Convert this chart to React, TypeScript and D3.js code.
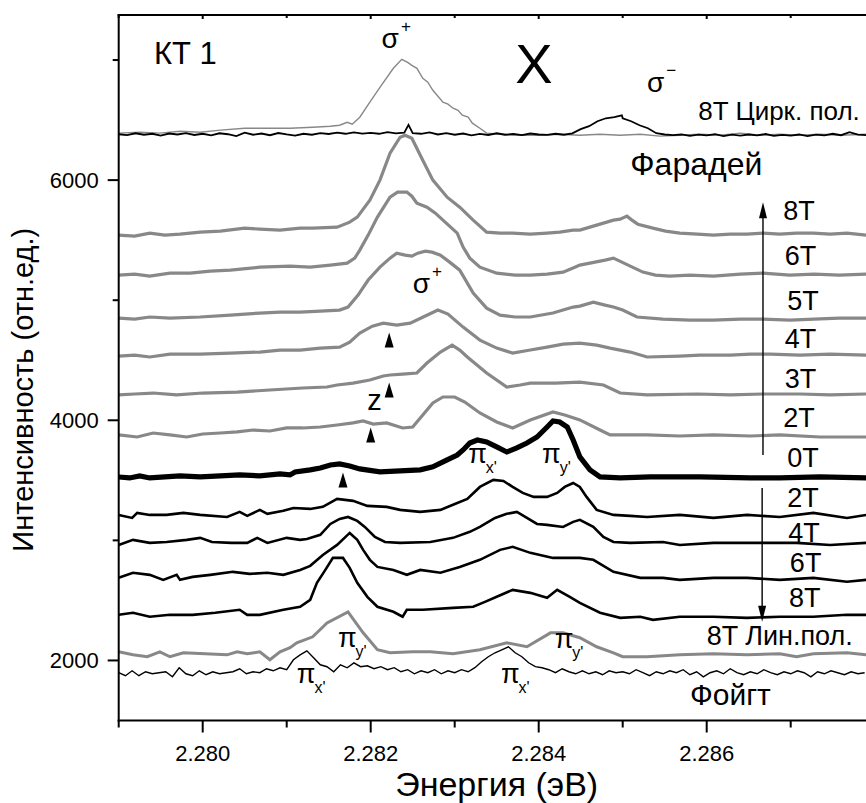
import React from "react";
import * as d3 from "d3";

// ---------- axis ticks ----------
const xMajorTicks = [2.28, 2.282, 2.284, 2.286, 2.288];
const xTickLabels = [2.28, 2.282, 2.284, 2.286];
const xMinorTicks = [2.279, 2.281, 2.283, 2.285, 2.287];
const yMajorTicks = [2000, 4000, 6000];
const yMinorTicks = [3000, 5000, 7000];

// ---------- spectra: [energy (eV), intensity (arb.)] ----------
// 8T circular polarisation (Faraday), sigma+ (gray thin)
const circSigmaPlus = [
  [2.279, 6391], [2.27925, 6399], [2.27949, 6391], [2.27973, 6407], [2.27997, 6399], [2.28021, 6416],
  [2.2805, 6432], [2.2808, 6432], [2.28104, 6432], [2.28131, 6440], [2.28152, 6449], [2.28163, 6457],
  [2.28172, 6482], [2.28178, 6466], [2.28187, 6524], [2.28199, 6649], [2.28211, 6773], [2.28227, 6931],
  [2.28237, 7006], [2.28244, 6981], [2.28249, 6956], [2.28255, 6931], [2.28262, 6848], [2.28268, 6815],
  [2.28274, 6748], [2.28286, 6649], [2.28292, 6632], [2.28298, 6599], [2.28304, 6582], [2.28309, 6540],
  [2.28316, 6524], [2.28321, 6474], [2.2833, 6432], [2.28338, 6391], [2.28354, 6382], [2.28378, 6374],
  [2.28402, 6374], [2.28425, 6382], [2.28449, 6374], [2.28473, 6382], [2.28497, 6374], [2.28521, 6382],
  [2.28544, 6366], [2.28568, 6374], [2.28592, 6382], [2.28616, 6374], [2.2864, 6391], [2.28664, 6374],
  [2.28687, 6382], [2.28711, 6374], [2.28735, 6382], [2.28759, 6374], [2.2879, 6382],
];
// 8T circular polarisation, sigma- (black thin)
const circSigmaMinus = [
  [2.279, 6382], [2.2791, 6374], [2.2792, 6390], [2.2793, 6378], [2.2794, 6386], [2.2795, 6370],
  [2.2796, 6388], [2.2797, 6380], [2.2798, 6392], [2.2799, 6376], [2.28, 6386], [2.2801, 6372],
  [2.2802, 6390], [2.2803, 6382], [2.2804, 6366], [2.2805, 6395], [2.2806, 6378], [2.2807, 6388],
  [2.2808, 6374], [2.2809, 6392], [2.281, 6380], [2.2811, 6370], [2.2812, 6386], [2.2813, 6378],
  [2.2814, 6392], [2.2815, 6384], [2.2816, 6396], [2.2817, 6386], [2.2818, 6398], [2.2819, 6388],
  [2.282, 6394], [2.2821, 6386], [2.2822, 6400], [2.2823, 6390], [2.2824, 6395], [2.28245, 6460],
  [2.2825, 6392], [2.2826, 6386], [2.2827, 6398], [2.2828, 6380], [2.2829, 6392], [2.283, 6378],
  [2.2831, 6388], [2.2832, 6372], [2.2833, 6385], [2.2834, 6376], [2.2835, 6390], [2.2836, 6378],
  [2.2837, 6384], [2.2838, 6374], [2.2839, 6388], [2.284, 6380], [2.2841, 6376], [2.2842, 6386],
  [2.2843, 6378], [2.2844, 6390], [2.2845, 6424], [2.2846, 6449], [2.2847, 6490], [2.2848, 6515],
  [2.2849, 6524], [2.28499, 6540], [2.285, 6515], [2.2851, 6490], [2.2852, 6457], [2.2853, 6432],
  [2.2854, 6391], [2.2855, 6380], [2.2856, 6374], [2.2857, 6380], [2.2858, 6368], [2.2859, 6378],
  [2.286, 6372], [2.2861, 6382], [2.2862, 6366], [2.2863, 6378], [2.2864, 6370], [2.2865, 6380],
  [2.2866, 6372], [2.2867, 6384], [2.2868, 6368], [2.2869, 6376], [2.287, 6370], [2.2871, 6380],
  [2.2872, 6366], [2.2873, 6378], [2.2874, 6372], [2.2875, 6386], [2.2876, 6374], [2.2877, 6400],
  [2.2878, 6378], [2.2879, 6374],
];
// Faraday geometry, gray thick
const faraday8T = [
  [2.279, 5542], [2.27919, 5534], [2.27937, 5559], [2.27955, 5542], [2.27973, 5550], [2.27997, 5567],
  [2.28021, 5575], [2.2805, 5600], [2.28068, 5592], [2.28092, 5584], [2.28116, 5600], [2.28131, 5600],
  [2.2816, 5608], [2.28175, 5650], [2.28184, 5692], [2.28199, 5833], [2.28211, 6000], [2.28223, 6224],
  [2.28235, 6357], [2.28241, 6374], [2.28249, 6349], [2.28262, 6166], [2.28274, 6000], [2.28291, 5858],
  [2.28306, 5775], [2.28322, 5667], [2.28338, 5567], [2.28354, 5559], [2.28369, 5559], [2.2839, 5550],
  [2.2841, 5559], [2.28425, 5567], [2.28441, 5584], [2.28449, 5584], [2.28469, 5625], [2.28489, 5667],
  [2.28497, 5675], [2.28505, 5700], [2.28511, 5667], [2.28518, 5633], [2.28536, 5600], [2.28551, 5575],
  [2.28568, 5559], [2.28589, 5550], [2.28608, 5542], [2.28628, 5550], [2.28648, 5550], [2.28667, 5559],
  [2.28687, 5550], [2.28707, 5559], [2.28727, 5559], [2.28747, 5550], [2.28767, 5559], [2.2879, 5542],
];
const faraday6T = [
  [2.279, 5209], [2.27919, 5217], [2.27937, 5200], [2.27961, 5225], [2.27985, 5225], [2.28009, 5242],
  [2.28033, 5250], [2.28068, 5275], [2.28104, 5284], [2.28128, 5275], [2.28152, 5292], [2.28172, 5309],
  [2.28181, 5350], [2.28187, 5417], [2.28197, 5542], [2.28208, 5692], [2.28223, 5858], [2.28232, 5900],
  [2.28243, 5900], [2.28249, 5866], [2.28255, 5808], [2.28267, 5775], [2.28277, 5725], [2.28286, 5667],
  [2.28303, 5559], [2.2831, 5442], [2.28318, 5350], [2.2833, 5275], [2.2835, 5225], [2.28372, 5209],
  [2.2839, 5209], [2.2841, 5217], [2.28429, 5234], [2.28443, 5275], [2.28449, 5292], [2.28467, 5317],
  [2.28479, 5334], [2.28489, 5350], [2.28499, 5317], [2.28509, 5284], [2.28524, 5234], [2.28539, 5209],
  [2.28556, 5200], [2.2858, 5209], [2.28608, 5200], [2.2864, 5217], [2.28667, 5225], [2.28699, 5209],
  [2.28728, 5217], [2.28758, 5209], [2.2879, 5217],
];
const faraday5T = [
  [2.279, 4851], [2.27919, 4843], [2.27937, 4860], [2.27961, 4851], [2.27997, 4860], [2.28033, 4876],
  [2.28068, 4893], [2.28092, 4901], [2.28116, 4901], [2.2814, 4909], [2.28163, 4918], [2.28173, 4943],
  [2.28185, 5043], [2.28197, 5168], [2.28211, 5275], [2.28223, 5350], [2.28231, 5392], [2.28241, 5375],
  [2.28249, 5367], [2.28256, 5392], [2.28265, 5409], [2.28273, 5400], [2.28283, 5375], [2.28294, 5317],
  [2.28306, 5250], [2.28322, 5059], [2.28338, 4934], [2.28354, 4876], [2.28372, 4860], [2.2839, 4860],
  [2.28417, 4893], [2.28441, 4943], [2.28449, 4951], [2.28465, 4984], [2.28479, 4959], [2.28489, 4943],
  [2.285, 4918], [2.28517, 4860], [2.28548, 4843], [2.2858, 4834], [2.28608, 4834], [2.2864, 4843],
  [2.28667, 4843], [2.28699, 4834], [2.28728, 4843], [2.28758, 4851], [2.2879, 4851],
];
const faraday4T = [
  [2.279, 4535], [2.27919, 4543], [2.27937, 4527], [2.27961, 4551], [2.27997, 4551], [2.28033, 4560],
  [2.28068, 4568], [2.28092, 4585], [2.28116, 4585], [2.2814, 4601], [2.28163, 4609], [2.28175, 4651],
  [2.28187, 4726], [2.28202, 4784], [2.28215, 4809], [2.28223, 4801], [2.28231, 4793], [2.28247, 4809],
  [2.28265, 4868], [2.2828, 4918], [2.28292, 4884], [2.2831, 4776], [2.2833, 4668], [2.2835, 4601],
  [2.28369, 4560], [2.2839, 4585], [2.2841, 4609], [2.28429, 4634], [2.28449, 4643], [2.28469, 4626],
  [2.28485, 4601], [2.28509, 4568], [2.28529, 4527], [2.28568, 4535], [2.28592, 4543], [2.28628, 4543],
  [2.28652, 4551], [2.28676, 4551], [2.28711, 4543], [2.28747, 4551], [2.2879, 4543],
];
const faraday3T = [
  [2.279, 4211], [2.27919, 4219], [2.27941, 4227], [2.27969, 4211], [2.28, 4227], [2.28041, 4235],
  [2.2808, 4252], [2.28119, 4269], [2.28148, 4277], [2.2816, 4294], [2.28179, 4310], [2.28199, 4335],
  [2.28215, 4369], [2.28223, 4377], [2.28238, 4385], [2.28255, 4394], [2.28267, 4477], [2.28283, 4568],
  [2.28297, 4626], [2.28306, 4585], [2.28315, 4527], [2.28338, 4394], [2.28362, 4277], [2.28378, 4294],
  [2.2839, 4310], [2.2842, 4310], [2.28449, 4318], [2.28477, 4294], [2.28497, 4227], [2.28529, 4211],
  [2.28589, 4219], [2.28628, 4211], [2.28667, 4219], [2.28711, 4219], [2.28747, 4211], [2.2879, 4219],
];
const faraday2T = [
  [2.279, 3878], [2.27922, 3861], [2.27941, 3894], [2.27961, 3878], [2.27981, 3861], [2.28, 3886],
  [2.28021, 3894], [2.28041, 3903], [2.2806, 3919], [2.2808, 3911], [2.281, 3936], [2.28119, 3936],
  [2.2814, 3944], [2.2816, 3961], [2.28179, 3978], [2.28191, 3994], [2.28203, 3969], [2.28219, 3978],
  [2.28238, 3936], [2.2825, 3944], [2.28262, 4044], [2.28274, 4144], [2.28286, 4194], [2.283, 4194],
  [2.28312, 4152], [2.2833, 4061], [2.2835, 3986], [2.28369, 3936], [2.2839, 4003], [2.28417, 4069],
  [2.28431, 4044], [2.28449, 4003], [2.28473, 3919], [2.28485, 3878], [2.28509, 3878], [2.28529, 3878],
  [2.28568, 3869], [2.28608, 3878], [2.28652, 3869], [2.28687, 3878], [2.28735, 3861], [2.2879, 3861],
];
// zero field, black very thick
const zeroField = [
  [2.279, 3528], [2.27913, 3520], [2.27925, 3537], [2.27937, 3520], [2.27955, 3528], [2.27973, 3537],
  [2.27997, 3528], [2.28021, 3537], [2.28044, 3545], [2.28068, 3537], [2.28092, 3553], [2.28104, 3545],
  [2.2811, 3570], [2.28128, 3587], [2.2814, 3603], [2.28152, 3628], [2.28163, 3637], [2.28175, 3620],
  [2.28187, 3595], [2.28211, 3570], [2.28235, 3578], [2.28259, 3587], [2.28274, 3612], [2.28291, 3670],
  [2.28303, 3711], [2.2831, 3753], [2.28318, 3811], [2.28327, 3836], [2.28338, 3820], [2.2835, 3778],
  [2.28362, 3736], [2.28374, 3770], [2.28386, 3811], [2.28398, 3861], [2.2841, 3944], [2.28417, 3994],
  [2.28425, 3986], [2.28434, 3944], [2.28441, 3836], [2.28449, 3695], [2.28461, 3587], [2.28473, 3528],
  [2.28497, 3520], [2.28533, 3528], [2.28592, 3528], [2.28652, 3520], [2.28687, 3520], [2.28735, 3528],
  [2.2879, 3520],
];
// Voigt geometry, black
const voigt2T = [
  [2.279, 3212], [2.27916, 3187], [2.27922, 3229], [2.27937, 3212], [2.27957, 3212], [2.27977, 3229],
  [2.27997, 3212], [2.28029, 3195], [2.28044, 3237], [2.28053, 3204], [2.28068, 3254], [2.28077, 3221],
  [2.28096, 3246], [2.28108, 3270], [2.28128, 3262], [2.28143, 3279], [2.2816, 3345], [2.28179, 3329],
  [2.28196, 3287], [2.28219, 3279], [2.28235, 3254], [2.28259, 3237], [2.28283, 3254], [2.28298, 3296],
  [2.28315, 3345], [2.2833, 3445], [2.28346, 3504], [2.28358, 3495], [2.28369, 3445], [2.28381, 3395],
  [2.28394, 3362], [2.2841, 3362], [2.28422, 3395], [2.28431, 3445], [2.28441, 3478], [2.28449, 3445],
  [2.28457, 3362], [2.28469, 3254], [2.28489, 3212], [2.28509, 3204], [2.28529, 3195], [2.28568, 3212],
  [2.28608, 3187], [2.28648, 3212], [2.28687, 3195], [2.28727, 3229], [2.28767, 3187], [2.2879, 3212],
];
const voigt4T = [
  [2.279, 2962], [2.27917, 3004], [2.27937, 2979], [2.27957, 2987], [2.27981, 3004], [2.27997, 3021],
  [2.28011, 2987], [2.28034, 2979], [2.28053, 2979], [2.28065, 3021], [2.28077, 2979], [2.281, 3021],
  [2.28116, 3004], [2.28124, 3012], [2.2814, 3046], [2.28152, 3137], [2.28163, 3179], [2.28173, 3195],
  [2.28184, 3162], [2.28193, 3112], [2.28205, 3029], [2.28217, 2987], [2.28235, 2979], [2.28271, 2987],
  [2.28298, 3021], [2.28318, 3071], [2.2833, 3112], [2.28348, 3187], [2.28362, 3221], [2.28374, 3237],
  [2.28386, 3187], [2.28398, 3137], [2.2841, 3129], [2.28429, 3112], [2.28441, 3154], [2.28449, 3171],
  [2.28465, 3112], [2.28477, 3029], [2.28489, 2987], [2.28509, 2979], [2.28548, 2987], [2.28568, 2962],
  [2.28608, 2979], [2.28667, 2979], [2.28707, 2979], [2.28747, 2962], [2.2879, 2979],
];
const voigt6T = [
  [2.279, 2688], [2.27917, 2730], [2.27937, 2713], [2.27953, 2671], [2.27969, 2713], [2.27973, 2671],
  [2.27988, 2696], [2.28009, 2713], [2.28036, 2738], [2.28056, 2721], [2.28077, 2730], [2.28096, 2713],
  [2.28116, 2754], [2.28128, 2788], [2.28143, 2879], [2.2816, 2962], [2.28175, 3062], [2.28184, 3004],
  [2.28191, 2921], [2.28199, 2838], [2.28208, 2779], [2.28227, 2754], [2.28243, 2713], [2.28259, 2754],
  [2.28283, 2730], [2.28306, 2779], [2.2833, 2838], [2.28354, 2921], [2.28369, 2946], [2.2839, 2896],
  [2.28417, 2854], [2.28449, 2854], [2.28465, 2838], [2.28489, 2738], [2.28521, 2688], [2.28548, 2688],
  [2.28568, 2671], [2.28608, 2688], [2.28648, 2688], [2.28687, 2671], [2.28727, 2688], [2.28767, 2655],
  [2.2879, 2671],
];
const voigt8T = [
  [2.279, 2380], [2.27917, 2397], [2.27937, 2364], [2.27961, 2380], [2.27988, 2380], [2.28015, 2397],
  [2.28044, 2422], [2.28053, 2380], [2.28068, 2380], [2.28096, 2422], [2.28116, 2447], [2.28128, 2505],
  [2.28136, 2646], [2.28146, 2754], [2.28155, 2854], [2.28167, 2854], [2.28175, 2771], [2.28184, 2646],
  [2.28196, 2530], [2.28208, 2447], [2.28227, 2405], [2.28238, 2364], [2.28243, 2422], [2.28262, 2422],
  [2.28298, 2438], [2.28322, 2447], [2.28336, 2488], [2.2835, 2530], [2.28369, 2588], [2.2839, 2563],
  [2.2841, 2522], [2.28422, 2588], [2.28437, 2530], [2.28449, 2480], [2.28473, 2397], [2.28497, 2355],
  [2.28521, 2364], [2.28536, 2338], [2.28568, 2364], [2.28608, 2364], [2.28648, 2355], [2.28687, 2364],
  [2.28727, 2364], [2.28767, 2380], [2.2879, 2380],
];
// 8T linear polarisation (Voigt), gray
const linearPol8T = [
  [2.279, 2072], [2.27917, 2047], [2.27934, 2031], [2.27949, 2072], [2.27961, 2031], [2.27977, 2064],
  [2.28003, 2056], [2.28029, 2047], [2.28041, 2072], [2.28053, 2056], [2.28068, 2072], [2.2808, 2006],
  [2.28092, 2072], [2.28104, 2106], [2.28112, 2147], [2.28131, 2197], [2.28148, 2313], [2.28173, 2405],
  [2.28191, 2230], [2.28208, 2089], [2.28223, 2064], [2.2825, 2072], [2.28271, 2072], [2.28298, 2056],
  [2.2833, 2089], [2.28362, 2147], [2.28386, 2114], [2.28414, 2230], [2.28429, 2230], [2.28449, 2189],
  [2.28469, 2114], [2.28489, 2064], [2.285, 2031], [2.28529, 2031], [2.28568, 2047], [2.28608, 2056],
  [2.28648, 2047], [2.28687, 2056], [2.28707, 2031], [2.28727, 2056], [2.28767, 2064], [2.2879, 2047],
];
// Voigt, unpolarised, black thin
const voigtUnpol = [
  [2.279, 1898], [2.27908, 1873], [2.27916, 1914], [2.27924, 1873], [2.27932, 1906], [2.2794, 1889],
  [2.27948, 1898], [2.27956, 1906], [2.27964, 1864], [2.27972, 1939], [2.2798, 1889], [2.27988, 1873],
  [2.27996, 1914], [2.28004, 1881], [2.28012, 1906], [2.2802, 1889], [2.28028, 1898], [2.28036, 1906],
  [2.28044, 1931], [2.28052, 1889], [2.2806, 1906], [2.28068, 1898], [2.28076, 1931], [2.28084, 1914],
  [2.28092, 1939], [2.281, 1923], [2.28108, 2006], [2.28116, 2047], [2.28124, 2080], [2.28132, 2023],
  [2.2814, 1964], [2.28148, 1948], [2.28156, 1906], [2.28164, 1964], [2.28172, 1939], [2.2818, 1980],
  [2.28188, 1948], [2.28196, 1956], [2.28204, 1931], [2.28212, 1948], [2.2822, 1923], [2.28228, 1940],
  [2.28236, 1906], [2.28244, 1923], [2.28252, 1889], [2.2826, 1914], [2.28268, 1898], [2.28276, 1923],
  [2.28284, 1889], [2.28292, 1914], [2.283, 1898], [2.28308, 1923], [2.28316, 1906], [2.28324, 1940],
  [2.28332, 1989], [2.2834, 2031], [2.28348, 2064], [2.28356, 2089], [2.28364, 2114], [2.28372, 2064],
  [2.2838, 2031], [2.28388, 1981], [2.28396, 1948], [2.28404, 1939], [2.28412, 1923], [2.2842, 1898],
  [2.28428, 1931], [2.28436, 1906], [2.28444, 1889], [2.28452, 1914], [2.2846, 1889], [2.28468, 1906],
  [2.28476, 1881], [2.28484, 1914], [2.28492, 1898], [2.285, 1906], [2.28508, 1889], [2.28516, 1923],
  [2.28524, 1898], [2.28532, 1873], [2.2854, 1906], [2.28548, 1889], [2.28556, 1914], [2.28564, 1898],
  [2.28572, 1923], [2.2858, 1881], [2.28588, 1906], [2.28596, 1864], [2.28604, 1898], [2.28612, 1914],
  [2.2862, 1889], [2.28628, 1931], [2.28636, 1898], [2.28644, 1881], [2.28652, 1906], [2.2866, 1889],
  [2.28668, 1923], [2.28676, 1898], [2.28684, 1881], [2.28692, 1906], [2.287, 1889], [2.28708, 1914],
  [2.28716, 1898], [2.28724, 1864], [2.28732, 1906], [2.2874, 1889], [2.28748, 1914], [2.28756, 1898],
  [2.28764, 1881], [2.28772, 1906], [2.2878, 1889], [2.28788, 1898],
];

// ---------- annotations (energy, intensity anchors) ----------
const fieldLabels = [
  ["8T", 2.28691, 5667], ["6T", 2.28693, 5292], ["5T", 2.28696, 4918], ["4T", 2.28693, 4601],
  ["3T", 2.28693, 4269], ["2T", 2.28691, 3944], ["0T", 2.28696, 3612], ["2T", 2.28696, 3279],
  ["4T", 2.28697, 2988], ["6T", 2.28699, 2738], ["8T", 2.28698, 2447],
];
const sigmaLabels = [
  ["+", 2.28213, 7098], ["−", 2.28529, 6732], ["+", 2.2825, 5059],
];
const piLabels = [
  ["x'", 2.28316, 3645], ["y'", 2.28404, 3645], ["y'", 2.28161, 2114],
  ["x'", 2.28112, 1814], ["x'", 2.28355, 1814], ["y'", 2.28419, 2106],
];
const markerPoints = [
  [2.28222, 4668], [2.28222, 4252], [2.282, 3878], [2.28167, 3503],
];
const textLabels = [
  ["КТ 1", 2.27942, 6965, 31], ["8T Цирк. пол.", 2.2859, 6499, 26], ["Фарадей", 2.28509, 6041, 32],
  ["8T Лин.пол.", 2.286, 2131, 27], ["Фойгт", 2.2858, 1632, 30], ["z", 2.28196, 4086, 29],
];
const upArrow = [2.28667, 3711, 5816];
const downArrow = [2.28666, 3437, 2322];

const FONT = "'Liberation Sans', Arial, Helvetica, sans-serif";
const GRAY = "#888888";

export default function App() {
  const x = d3.scaleLinear().domain([2.279, 2.288]).range([118.7, 874.7]);
  const y = d3.scaleLinear().domain([1500, 7375]).range([720.5, 15]);
  const line = d3.line<number[]>().x((d) => x(d[0])).y((d) => y(d[1]));
  const [xl, xr] = x.range();
  const [yb, yt] = y.range();

  const series = [
    { d: circSigmaPlus, c: GRAY, w: 1.4 },
    { d: circSigmaMinus, c: "#000", w: 1.8 },
    { d: faraday8T, c: GRAY, w: 3.2 },
    { d: faraday6T, c: GRAY, w: 3.2 },
    { d: faraday5T, c: GRAY, w: 3.2 },
    { d: faraday4T, c: GRAY, w: 3.2 },
    { d: faraday3T, c: GRAY, w: 3.2 },
    { d: faraday2T, c: GRAY, w: 3.2 },
    { d: voigt2T, c: "#000", w: 2.6 },
    { d: voigt4T, c: "#000", w: 2.6 },
    { d: voigt6T, c: "#000", w: 2.6 },
    { d: voigt8T, c: "#000", w: 2.6 },
    { d: linearPol8T, c: GRAY, w: 3 },
    { d: voigtUnpol, c: "#000", w: 1.4 },
    { d: zeroField, c: "#000", w: 5.2 },
  ];

  return (
    <svg width={866} height={803} style={{ position: "absolute", left: 0, top: 0, background: "#fff" }}
      fontFamily={FONT}>
      <defs>
        <clipPath id="plot">
          <rect x={xl} y={yt} width={xr - xl} height={yb - yt} />
        </clipPath>
      </defs>
      <rect width={866} height={803} fill="#fff" />
      <g clipPath="url(#plot)" fill="none" strokeLinejoin="miter" strokeMiterlimit={3}>
        {series.map((s, i) => (
          <path key={i} d={line(s.d as number[][]) || ""} stroke={s.c} strokeWidth={s.w} />
        ))}
      </g>

      {/* axes frame */}
      <g stroke="#000" strokeWidth={2} fill="none">
        <line x1={xl} x2={xl} y1={yt - 1} y2={yb + 1} />
        <line x1={xl - 1} x2={xr} y1={yb} y2={yb} />
        <line x1={xl - 1} x2={xr} y1={yt} y2={yt} />
        <line x1={xr} x2={xr} y1={yt} y2={yb} />
        {xMajorTicks.map((t) => (
          <g key={"xM" + t}>
            <line x1={x(t)} x2={x(t)} y1={yb} y2={yb + 12} />
            <line x1={x(t)} x2={x(t)} y1={yt} y2={yt + 4} />
          </g>
        ))}
        {xMinorTicks.map((t) => (
          <g key={"xm" + t}>
            <line x1={x(t)} x2={x(t)} y1={yb} y2={yb + 7} />
            <line x1={x(t)} x2={x(t)} y1={yt} y2={yt + 3} />
          </g>
        ))}
        {yMajorTicks.map((t) => (
          <line key={"yM" + t} x1={xl - 11} x2={xl} y1={y(t)} y2={y(t)} />
        ))}
        {yMinorTicks.map((t) => (
          <line key={"ym" + t} x1={xl - 6} x2={xl} y1={y(t)} y2={y(t)} />
        ))}
      </g>
      <g fontSize={22} fill="#000">
        {xTickLabels.map((t) => (
          <text key={"xt" + t} x={x(t)} y={yb + 40} textAnchor="middle">
            {d3.format(".3f")(t)}
          </text>
        ))}
        {yMajorTicks.map((t) => (
          <text key={"yt" + t} x={xl - 20} y={y(t) + 7.5} textAnchor="end">
            {t}
          </text>
        ))}
      </g>
      <text x={(xl + xr) / 2} y={yb + 75} textAnchor="middle" fontSize={34}>
        Энергия (эВ)
      </text>
      <text transform={`translate(33, ${(yt + yb) / 2 + 22}) rotate(-90)`} textAnchor="middle" fontSize={29}>
        Интенсивность (отн.ед.)
      </text>

      {/* annotations */}
      <text x={x(2.28372)} y={y(6807)} fontSize={56}>X</text>
      {textLabels.map(([t, e, v, s], i) => (
        <text key={"tl" + i} x={x(e as number)} y={y(v as number)} fontSize={s as number}>{t}</text>
      ))}
      {fieldLabels.map(([t, e, v], i) => (
        <text key={"fl" + i} x={x(e as number)} y={y(v as number)} fontSize={27}>{t}</text>
      ))}
      {sigmaLabels.map(([s, e, v], i) => (
        <text key={"sg" + i} x={x(e as number)} y={y(v as number)} fontSize={28}>
          σ<tspan dx={2} dy={-16} fontSize={17}>{s}</tspan>
        </text>
      ))}
      {piLabels.map(([s, e, v], i) => (
        <text key={"pi" + i} x={x(e as number)} y={y(v as number)} fontSize={27}>
          π<tspan dx={-1} dy={10} fontSize={16}>{s}</tspan>
        </text>
      ))}
      {markerPoints.map(([e, v], i) => (
        <path key={"mk" + i} transform={`translate(${x(e)},${y(v)})`} d="M0,-7.5L4.5,7.5L-4.5,7.5Z" fill="#000" />
      ))}
      <g stroke="#000" strokeWidth={1.4}>
        <line x1={x(upArrow[0])} x2={x(upArrow[0])} y1={y(upArrow[1])} y2={y(upArrow[2]) + 12} />
        <line x1={x(downArrow[0])} x2={x(downArrow[0])} y1={y(downArrow[1])} y2={y(downArrow[2]) - 12} />
      </g>
      <path transform={`translate(${x(upArrow[0])},${y(upArrow[2])})`} d="M0,0L4,16L-4,16Z" fill="#000" />
      <path transform={`translate(${x(downArrow[0])},${y(downArrow[2])})`} d="M0,0L4,-16L-4,-16Z" fill="#000" />
    </svg>
  );
}
